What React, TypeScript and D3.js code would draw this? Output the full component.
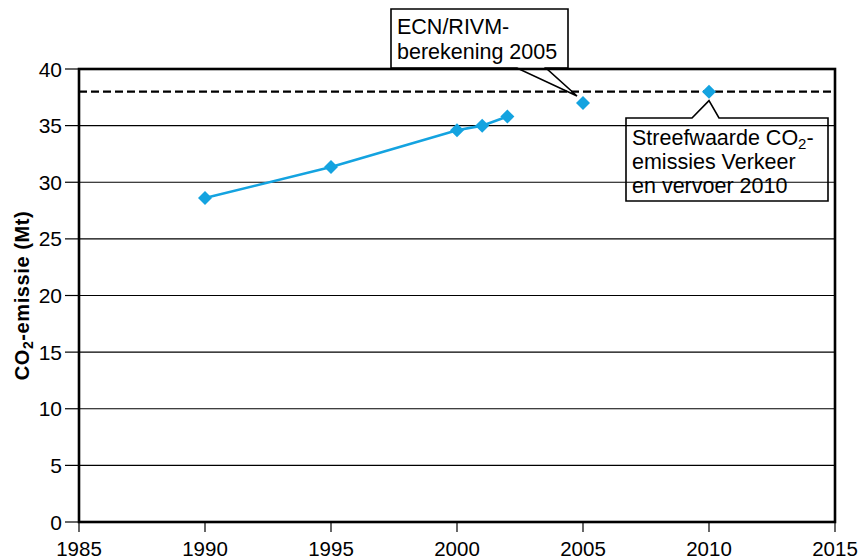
import React from "react";
import * as d3 from "d3";

const years = [1990, 1995, 2000, 2001, 2002];
const emissions = [28.6, 31.35, 34.6, 35.0, 35.8];
const projectionYear = 2005;
const projectionValue = 37.0;
const targetYear = 2010;
const targetValue = 38.0;
const xTicks = [1985, 1990, 1995, 2000, 2005, 2010, 2015];
const yTicks = [0, 5, 10, 15, 20, 25, 30, 35, 40];

const W = 862;
const H = 559;
const L = 79, R = 835, T = 69, B = 522;
const BLUE = "#14a3e0";
const FONT = "'Liberation Sans', Arial, sans-serif";

function Diamond({ cx, cy }: { cx: number; cy: number }) {
  const s = 7;
  return <path d={`M${cx},${cy - s}L${cx + s},${cy}L${cx},${cy + s}L${cx - s},${cy}Z`} fill={BLUE} />;
}

export default function App() {
  const x = d3.scaleLinear().domain([1985, 2015]).range([L, R]);
  const y = d3.scaleLinear().domain([0, 40]).range([B, T]);
  const pts = years.map((yr, i) => [x(yr), y(emissions[i])] as [number, number]);
  const line = d3.line()(pts) || "";

  const px = x(projectionYear), py = y(projectionValue);
  const tx = x(targetYear), ty = y(targetValue);

  const b1 = { x: 391, y: 9, w: 177, h: 59 };
  const b2 = { x: 626, y: 118, w: 202, h: 83 };
  const tip1 = [px - 6, py - 7];
  const tip2 = [tx, ty + 9];
  const FS = 21.5;

  return (
    <svg width={W} height={H} style={{ position: "absolute", left: 0, top: 0, display: "block" }} fontFamily={FONT}>
      <rect x={0} y={0} width={W} height={H} fill="#fff" />
      {yTicks.filter(v => v > 0 && v < 40).map(v => (
        <line key={v} x1={L} x2={R} y1={y(v)} y2={y(v)} stroke="#000" strokeWidth={1.1} />
      ))}
      {yTicks.map(v => (
        <g key={"yt" + v}>
          <line x1={65} x2={L} y1={y(v)} y2={y(v)} stroke="#000" strokeWidth={1.2} />
          <text x={62} y={y(v)} dy="0.36em" textAnchor="end" fontSize={21} fill="#000">{v}</text>
        </g>
      ))}
      {xTicks.map(v => (
        <g key={"xt" + v}>
          <line x1={x(v)} x2={x(v)} y1={B} y2={532} stroke="#000" strokeWidth={1.2} />
          <text x={x(v)} y={556} textAnchor="middle" fontSize={20.5} fill="#000">{v}</text>
        </g>
      ))}
      <line x1={L} x2={R} y1={y(targetValue)} y2={y(targetValue)} stroke="#000" strokeWidth={2.2} strokeDasharray="8,4" />
      <rect x={L} y={T} width={R - L} height={B - T} fill="none" stroke="#000" strokeWidth={2.6} />
      <path d={line} fill="none" stroke={BLUE} strokeWidth={2.6} />
      {pts.map((p, i) => <Diamond key={i} cx={p[0]} cy={p[1]} />)}
      <Diamond cx={px} cy={py} />
      <Diamond cx={tx} cy={ty} />
      <path
        d={`M517,${b1.y + b1.h}L${b1.x},${b1.y + b1.h}L${b1.x},${b1.y}L${b1.x + b1.w},${b1.y}L${b1.x + b1.w},${b1.y + b1.h}L546,${b1.y + b1.h}L${tip1[0]},${tip1[1]}Z`}
        fill="none" stroke="#000" strokeWidth={1.6}
      />
      <text x={397} y={34} fontSize={FS} fill="#000">ECN/RIVM-</text>
      <text x={397} y={59} fontSize={FS} fill="#000">berekening 2005</text>
      <path
        d={`M692,${b2.y}L${b2.x},${b2.y}L${b2.x},${b2.y + b2.h}L${b2.x + b2.w},${b2.y + b2.h}L${b2.x + b2.w},${b2.y}L719,${b2.y}L${tip2[0]},${tip2[1]}Z`}
        fill="none" stroke="#000" strokeWidth={1.6}
      />
      <text x={632} y={145} fontSize={FS} fill="#000">
        Streefwaarde CO<tspan fontSize={15} dy={4}>2</tspan><tspan dy={-4}>-</tspan>
      </text>
      <text x={632} y={169} fontSize={FS} fill="#000">emissies Verkeer</text>
      <text x={632} y={193} fontSize={FS} fill="#000">en vervoer 2010</text>
      <text transform={`translate(29,${(T + B) / 2}) rotate(-90)`} textAnchor="middle" fontSize={20} letterSpacing={0.6} fontWeight="bold" fill="#000">
        CO<tspan fontSize={14} dy={4}>2</tspan><tspan dy={-4}>-emissie (Mt)</tspan>
      </text>
    </svg>
  );
}
